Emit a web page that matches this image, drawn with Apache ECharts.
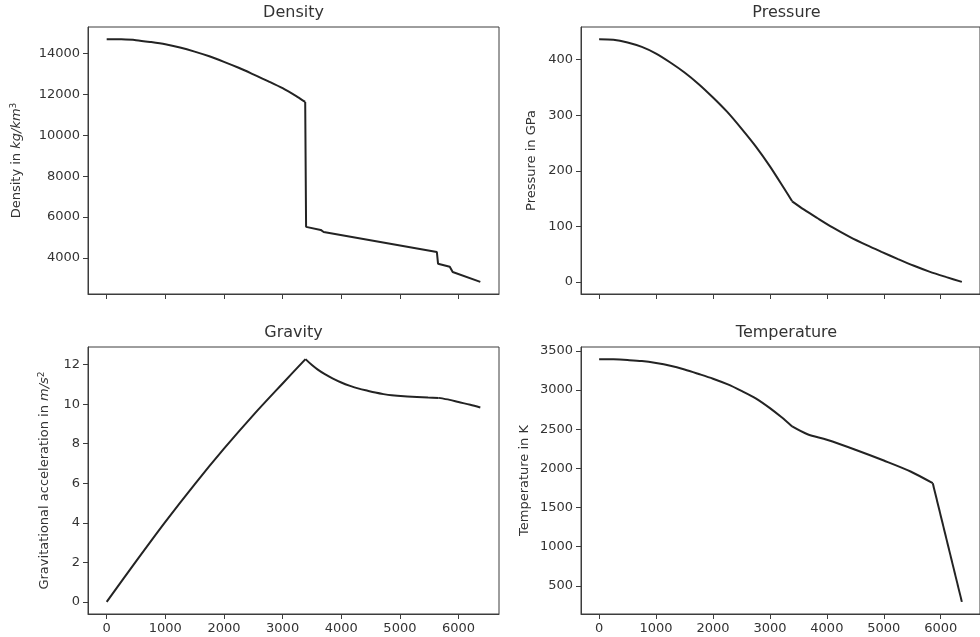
<!DOCTYPE html>
<html>
<head>
<meta charset="utf-8">
<title>Earth interior profiles</title>
<script src="https://cdn.jsdelivr.net/npm/echarts@6/dist/echarts.min.js"></script>
<style>
  html, body { margin: 0; padding: 0; background: #ffffff; }
  #chart { width: 980px; height: 637px; }
</style>
</head>
<body>
<div id="chart"></div>
<script>
// Radius from the centre of the Earth, in km
const radiusTicks = [0, 1000, 2000, 3000, 4000, 5000, 6000];

// Density profile (kg/km^3 as labelled)
const densityRadius = [0, 250, 500, 750, 1000, 1250, 1500, 1750, 2000, 2250, 2500, 2750, 3000, 3250, 3385,
  3400, 3650, 3700, 5630, 5650, 5850, 5900, 6371];
const densityValues = [14700, 14690, 14650, 14560, 14450, 14290, 14090, 13860, 13590, 13300, 12980, 12650, 12300, 11880, 11630,
  5520, 5370, 5270, 4290, 3720, 3570, 3310, 2830];
const densityTicks = [4000, 6000, 8000, 10000, 12000, 14000];
// indices where the profile changes character, and whether each piece is a smooth curve
const densityBreaks = [14];
const densitySmooth = [true, false];

// Pressure profile (GPa)
const pressureRadius = [0, 250, 500, 750, 1000, 1250, 1500, 1750, 2000, 2250, 2500, 2750, 3000, 3250, 3390,
  3600, 3830, 4100, 4400, 4700, 4960, 5250, 5530, 5800, 6100, 6371];
const pressureValues = [437, 436, 431, 423, 411, 395, 377, 356, 332, 306, 276, 244, 208, 168, 145,
  130, 115, 98, 81, 66, 54, 41, 29, 18.5, 8.5, 0];
const pressureTicks = [0, 100, 200, 300, 400];
const pressureBreaks = [14];
const pressureSmooth = [true, true];

// Gravitational acceleration profile (m/s^2)
const gravityRadius = [0, 500, 1000, 1500, 2000, 2500, 3000, 3390,
  3500, 3600, 3720, 3850, 4000, 4150, 4300, 4450, 4580, 4720, 4860, 5070, 5290, 5480, 5660, 5850, 6000, 6200, 6371];
const gravityValues = [0, 2.05, 4.05, 5.95, 7.75, 9.45, 11.05, 12.28,
  11.98, 11.75, 11.52, 11.31, 11.1, 10.93, 10.79, 10.68, 10.59, 10.51, 10.45, 10.4, 10.37, 10.34, 10.32, 10.22, 10.11, 9.97, 9.83];
const gravityTicks = [0, 2, 4, 6, 8, 10, 12];
const gravityBreaks = [7, 22];
const gravitySmooth = [true, true, true];

// Temperature profile (K)
const temperatureRadius = [0, 250, 500, 750, 1000, 1250, 1500, 1750, 2000, 2250, 2500, 2750, 3000, 3200, 3390,
  3660, 4000, 4500, 5000, 5470, 5860, 6371];
const temperatureValues = [3395, 3392, 3383, 3370, 3345, 3310, 3262, 3205, 3145, 3075, 2990, 2895, 2770, 2655, 2535,
  2435, 2365, 2238, 2100, 1960, 1810, 295];
const temperatureTicks = [500, 1000, 1500, 2000, 2500, 3000, 3500];
const temperatureBreaks = [14, 20];
const temperatureSmooth = [true, true, false];

const FONT = 'DejaVu Sans';
const TEXT = '#333333';
const FRAME = '#3c3c3c';
const LINE = '#232323';

// Split a profile into pieces at the given indices; the break point belongs to both pieces
function pieces(xs, ys, breaks) {
  const cuts = [0].concat(breaks, [xs.length - 1]);
  const out = [];
  for (let k = 0; k < cuts.length - 1; k++) {
    const seg = [];
    for (let i = cuts[k]; i <= cuts[k + 1]; i++) seg.push([xs[i], ys[i]]);
    out.push(seg);
  }
  return out;
}

// Axis limits padded by 5% of the data span on each side
function padded(values) {
  const lo = Math.min(...values), hi = Math.max(...values);
  const m = (hi - lo) * 0.05;
  return [lo - m, hi + m];
}

const allRadius = [].concat(densityRadius, pressureRadius, gravityRadius, temperatureRadius);
const xLim = padded(allRadius);

const panels = [
  { title: 'Density', left: 88, top: 27, xs: densityRadius, ys: densityValues, ticks: densityTicks,
    breaks: densityBreaks, smooth: densitySmooth, name: '{n|Density in }{i|kg/km}{s|3}', gap: 64, xLabels: false },
  { title: 'Pressure', left: 581, top: 27, xs: pressureRadius, ys: pressureValues, ticks: pressureTicks,
    breaks: pressureBreaks, smooth: pressureSmooth, name: 'Pressure in GPa', gap: 43, xLabels: false },
  { title: 'Gravity', left: 88, top: 347, xs: gravityRadius, ys: gravityValues, ticks: gravityTicks,
    breaks: gravityBreaks, smooth: gravitySmooth, name: '{n|Gravitational acceleration in }{i|m/s}{s|2}', gap: 36, xLabels: true },
  { title: 'Temperature', left: 581, top: 347, xs: temperatureRadius, ys: temperatureValues, ticks: temperatureTicks,
    breaks: temperatureBreaks, smooth: temperatureSmooth, name: 'Temperature in K', gap: 50, xLabels: true }
];

const W = 411, H = 267;
const plain = v => String(v);

const series = [];
panels.forEach((p, i) => {
  pieces(p.xs, p.ys, p.breaks).forEach((seg, k) => {
    series.push({
      type: 'line',
      name: p.title,
      xAxisIndex: i,
      yAxisIndex: i,
      data: seg,
      showSymbol: false,
      symbol: 'none',
      smooth: p.smooth[k] ? 0.3 : false,
      lineStyle: { color: LINE, width: 2 },
      clip: false
    });
  });
});

const option = {
  backgroundColor: '#ffffff',
  animation: false,
  title: panels.map(p => ({
    text: p.title,
    left: p.left + W / 2,
    top: p.top - 22,
    textAlign: 'center',
    padding: 0,
    textStyle: { fontFamily: FONT, fontSize: 16, fontWeight: 'normal', color: TEXT }
  })),
  grid: panels.map(p => ({
    left: p.left, top: p.top, width: W, height: H,
    show: true, borderColor: FRAME, borderWidth: 1, backgroundColor: 'transparent',
    containLabel: false
  })),
  xAxis: panels.map((p, i) => ({
    type: 'value',
    gridIndex: i,
    min: xLim[0],
    max: xLim[1],
    axisLine: { show: true, onZero: false, lineStyle: { color: FRAME, width: 1 } },
    axisTick: { show: true, inside: false, length: 5, lineStyle: { color: FRAME, width: 1 }, customValues: radiusTicks },
    axisLabel: { show: p.xLabels, margin: 8, fontFamily: FONT, fontSize: 13, color: TEXT, customValues: radiusTicks, formatter: plain },
    splitLine: { show: false }
  })),
  yAxis: panels.map((p, i) => {
    const lim = padded(p.ys);
    return {
      type: 'value',
      gridIndex: i,
      min: lim[0],
      max: lim[1],
      name: p.name,
      nameLocation: 'middle',
      nameRotate: 90,
      nameGap: p.gap,
      nameTextStyle: {
        fontFamily: FONT, fontSize: 13, color: TEXT,
        rich: {
          n: { fontFamily: FONT, fontSize: 13, color: TEXT },
          i: { fontFamily: FONT, fontSize: 13, color: TEXT, fontStyle: 'italic' },
          s: { fontFamily: FONT, fontSize: 9, color: TEXT, verticalAlign: 'top', padding: [0, 0, 6, 0] }
        }
      },
      axisLine: { show: true, onZero: false, lineStyle: { color: FRAME, width: 1 } },
      axisTick: { show: true, inside: false, length: 5, lineStyle: { color: FRAME, width: 1 }, customValues: p.ticks },
      axisLabel: { show: true, margin: 8, fontFamily: FONT, fontSize: 13, color: TEXT, customValues: p.ticks, formatter: plain },
      splitLine: { show: false }
    };
  }),
  series: series
};

const chart = echarts.init(document.getElementById('chart'), null, { renderer: 'canvas' });
chart.setOption(option);
</script>
</body>
</html>
